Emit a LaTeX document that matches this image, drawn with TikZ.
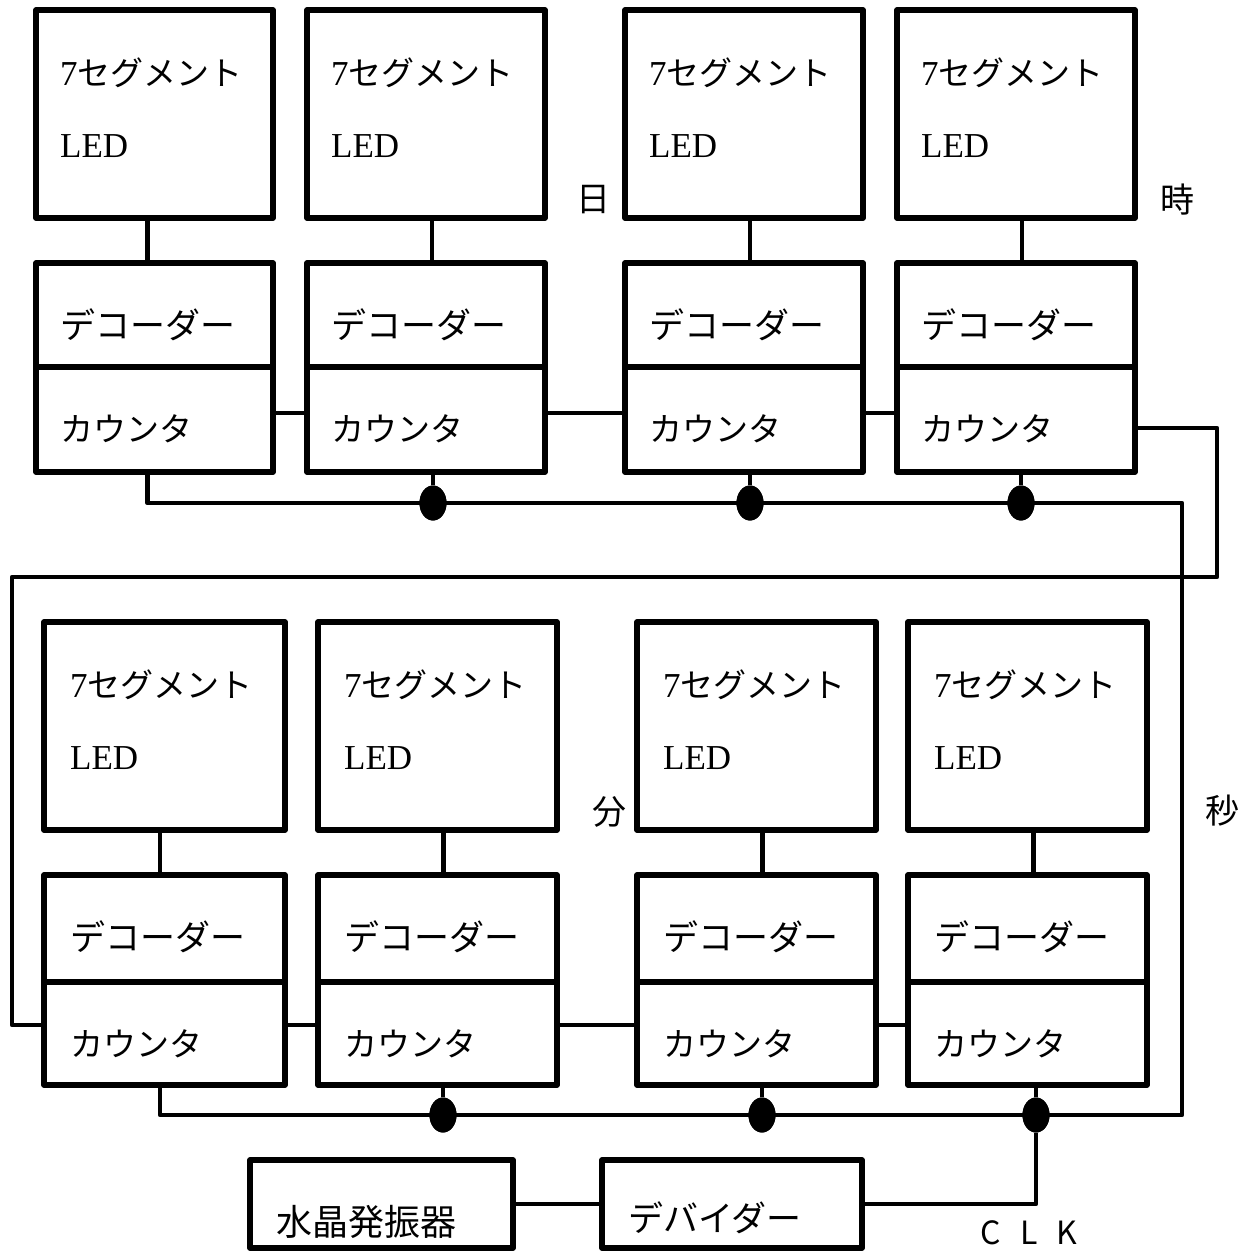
\documentclass[tikz,border=0pt]{standalone}
\usepackage{fontspec}
\setmainfont{Liberation Serif}
\newfontfamily\jp{Noto Sans CJK JP}
\usetikzlibrary{calc,shapes.geometric}
\newcommand\mkunit[9]{%
 \node[box, minimum width={#3-#2}, minimum height={#5-#4}] (L#1) at ({(#2+#3)/2},{(#4+#5)/2}) {};
 \node[box, minimum width={#3-#2}, minimum height={#7-#6}] (D#1) at ({(#2+#3)/2},{(#6+#7)/2}) {};
 \node[box, minimum width={#3-#2}, minimum height={#8-#7}] (C#1) at ({(#2+#3)/2},{(#7+#8)/2}) {};
 \node[seg] (S#1) at ({#2+#9},{#4+63}) {7{\jp\fontsize{33}{36}\selectfont セグメント}};
 \node[seg] (E#1) at ({#2+#9},{#4+136}) {LED};
 \node[lab, font=\jp\fontsize{35}{38}\selectfont] (DT#1) at ({#2+#9},{#6+62}) {デコーダー};
 \node[lab] (CT#1) at ({#2+#9},{#7+62}) {カウンタ};
}
\begin{document}
\begin{tikzpicture}[x=1pt,y=-1pt,
  box/.style={draw, line width=5.5pt, line join=round, inner sep=0pt, rectangle},
  wire/.style={line width=4.5pt, line join=round},
  lab/.style={inner sep=0pt, anchor=west, font=\jp\fontsize{33}{36}\selectfont},
  seg/.style={inner sep=0pt, anchor=west, font=\fontsize{35}{38}\selectfont},
  dot/.style={ellipse, fill, inner sep=0pt, minimum width=27pt, minimum height=35pt},
  kan/.style={inner sep=0pt, font=\jp\fontsize{34}{36}\selectfont}]
\useasboundingbox (0,0) rectangle (1252,1252);

\mkunit{1}{36}{273}{10}{218}{263}{367}{472}{24}
\mkunit{2}{307}{545}{10}{218}{263}{367}{472}{24}
\mkunit{3}{625}{863}{10}{218}{263}{367}{472}{24}
\mkunit{4}{897}{1135}{10}{218}{263}{367}{472}{24}
\mkunit{5}{44}{285}{622}{830}{875}{982}{1085}{26}
\mkunit{6}{318}{557}{622}{830}{875}{982}{1085}{26}
\mkunit{7}{637}{876}{622}{830}{875}{982}{1085}{26}
\mkunit{8}{908}{1147}{622}{830}{875}{982}{1085}{26}

% oscillator and divider
\node[box, minimum width=263, minimum height=88] (X) at (381.5,1204) {};
\node[lab, font=\jp\fontsize{36}{38}\selectfont] (XT) at (276,1222) {水晶発振器};
\node[box, minimum width=260, minimum height=88] (Div) at (732,1204) {};
\node[lab, font=\jp\fontsize{35}{38}\selectfont] (DivT) at (628,1218) {デバイダー};

% LED -> decoder links
\draw[wire] ([xshift=-7pt]L1.south) -- ([xshift=-7pt]D1.north);
\foreach \i in {2,3,4,6,7,8} \draw[wire] ([xshift=6pt]L\i.south) -- ([xshift=6pt]D\i.north);
\draw[wire] ([xshift=-4.5pt]L5.south) -- ([xshift=-4.5pt]D5.north);

% counter chains
\draw[wire] ([yshift=6.5pt]C1.east) -- ([yshift=6.5pt]C2.west);
\draw[wire] ([yshift=6.5pt]C2.east) -- ([yshift=6.5pt]C3.west);
\draw[wire] ([yshift=6.5pt]C3.east) -- ([yshift=6.5pt]C4.west);
\draw[wire] ([yshift=8.5pt]C5.east) -- ([yshift=8.5pt]C6.west);
\draw[wire] ([yshift=8.5pt]C6.east) -- ([yshift=8.5pt]C7.west);
\draw[wire] ([yshift=8.5pt]C7.east) -- ([yshift=8.5pt]C8.west);

% carry loop from hours to days
\coordinate (lpA) at (1217,577);
\coordinate (lpB) at (12,577);
\draw[wire] ([yshift=-8.5pt]C4.east) -| (lpA) -- (lpB) |- ([yshift=8.5pt]C5.west);

% clock buses
\coordinate (busTR) at (1182,503);
\coordinate (busBR) at (1182,1115);
\node[dot] (d2) at (433,503) {};
\node[dot] (d3) at (750,503) {};
\node[dot] (d4) at (1021,503) {};
\node[dot] (d6) at (443,1115) {};
\node[dot] (d7) at (762,1115) {};
\node[dot] (d8) at (1036,1115) {};
\draw[wire] ([xshift=-7pt]C1.south) |- (busTR) -- (busBR) -| ([xshift=-4.5pt]C5.south);
\foreach \i in {2,3,4,6,7,8} \draw[wire] (C\i.south -| d\i) -- (d\i);
\draw[wire] (d8) |- (Div.east);
\draw[wire] (X.east) -- (Div.west);
\foreach \i in {2,3,4,6,7,8} \node[dot] at (d\i) {};

% labels
\node[kan] (lday) at (593,200) {日};
\node[kan] (lhour) at (1177,200) {時};
\node[kan] (lmin) at (609,812) {分};
\node[kan] (lsec) at (1222,811) {秒};
\node[inner sep=0pt, font=\jp\fontsize{32}{34}\selectfont] (clk) at (1029,1233) {C\hspace{19pt}L\hspace{19pt}K};
\end{tikzpicture}
\end{document}
